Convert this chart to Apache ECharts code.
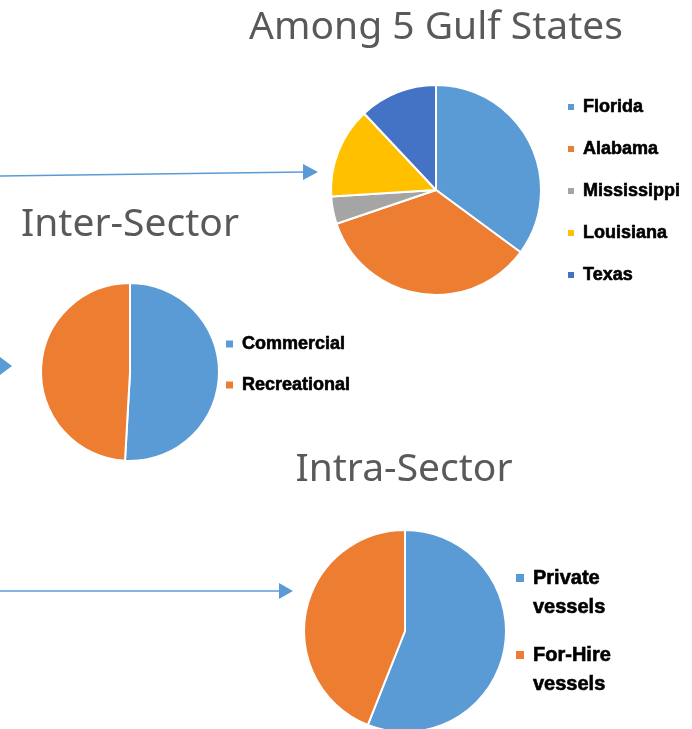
<!DOCTYPE html>
<html>
<head>
<meta charset="utf-8">
<script src="https://cdn.jsdelivr.net/npm/echarts@6/dist/echarts.min.js"></script>
<style>
  html, body { margin: 0; padding: 0; background: #fff; }
  #chart { width: 692px; height: 729px; }
</style>
</head>
<body>
<div id="chart"></div>
<script>
// values (percent shares)
const gulfStates = ['Florida', 'Alabama', 'Mississippi', 'Louisiana', 'Texas'];
const gulfValues = [35.1, 34.7, 4.2, 14.0, 12.0];

const interSectors = ['Commercial', 'Recreational'];
const interValues = [50.9, 49.1];

const intraSectors = ['Private\nvessels', 'For-Hire\nvessels'];
const intraValues = [56.0, 44.0];

const officeColors = ['#5B9BD5', '#ED7D31', '#A5A5A5', '#FFC000', '#4472C4'];
const arrowBlue = '#5B9BD5';

const titleFont = { fontFamily: 'Noto Sans', fontSize: 39, fontWeight: 'normal', color: '#595959' };
const legendFont = (size) => ({
	fontFamily: 'Liberation Sans', fontSize: size, fontWeight: 'bold', color: '#000',
	textBorderColor: '#000', textBorderWidth: 0.6
});

// square sitting at the top of a tall box, so the marker lines up with the first text line
const topSquareIcon = 'path://M0,0h10v10h-10zM0,39.99h0.01v0.01h-0.01z';

const chart = echarts.init(document.getElementById('chart'));

function pieSeries(name, names, values, center, radius) {
	return {
		name,
		type: 'pie',
		center,
		radius,
		startAngle: 90,
		clockwise: true,
		label: { show: false },
		labelLine: { show: false },
		emphasis: { disabled: true },
		itemStyle: { borderColor: '#fff', borderWidth: 2 },
		data: names.map((n, i) => ({ name: n, value: values[i], itemStyle: { color: officeColors[i] } }))
	};
}

const option = {
	animation: false,
	color: officeColors,
	title: [
		{ text: 'Among 5 Gulf States', left: 436, top: 8, textAlign: 'center', padding: 0, textStyle: titleFont },
		{ text: 'Inter-Sector', left: 130, top: 205, textAlign: 'center', padding: 0, textStyle: titleFont },
		{ text: 'Intra-Sector', left: 404, top: 450, textAlign: 'center', padding: 0, textStyle: titleFont }
	],
	legend: [
		{
			data: gulfStates, orient: 'vertical', left: 566, top: 97, padding: 0,
			itemWidth: 8, itemHeight: 8, itemGap: 22, icon: 'rect',
			textStyle: Object.assign(legendFont(18), { lineHeight: 20, padding: [0, 0, 0, 3] })
		},
		{
			data: interSectors, orient: 'vertical', left: 224, top: 334, padding: 0,
			itemWidth: 9, itemHeight: 9, itemGap: 21, icon: 'rect',
			textStyle: Object.assign(legendFont(18), { lineHeight: 20, padding: [0, 0, 0, 3] })
		},
		{
			data: intraSectors, orient: 'vertical', left: 514, top: 564, padding: 0,
			itemWidth: 10, itemHeight: 40, itemGap: 19, icon: topSquareIcon,
			textStyle: Object.assign(legendFont(20), { lineHeight: 29, padding: [0, 0, 0, 3] })
		}
	],
	series: [
		pieSeries('Gulf', gulfStates, gulfValues, [436, 190], 105),
		pieSeries('Inter', interSectors, interValues, [130, 372], 89),
		pieSeries('Intra', intraSectors, intraValues, [405, 631], 101)
	],
	graphic: [
		// arrow into the gulf pie
		{ type: 'line', shape: { x1: 0, y1: 176, x2: 305, y2: 172 }, style: { stroke: arrowBlue, lineWidth: 1.5 } },
		{ type: 'polygon', shape: { points: [[303, 164], [318, 172], [303, 180]] }, style: { fill: arrowBlue } },
		// arrowhead at left edge pointing to inter pie
		{ type: 'polygon', shape: { points: [[0, 357], [12, 366], [0, 375]] }, style: { fill: arrowBlue } },
		// arrow into the intra pie
		{ type: 'line', shape: { x1: 0, y1: 591, x2: 281, y2: 591 }, style: { stroke: arrowBlue, lineWidth: 1.5 } },
		{ type: 'polygon', shape: { points: [[279, 583], [293, 591], [279, 599]] }, style: { fill: arrowBlue } }
	]
};

chart.setOption(option);
</script>
</body>
</html>
